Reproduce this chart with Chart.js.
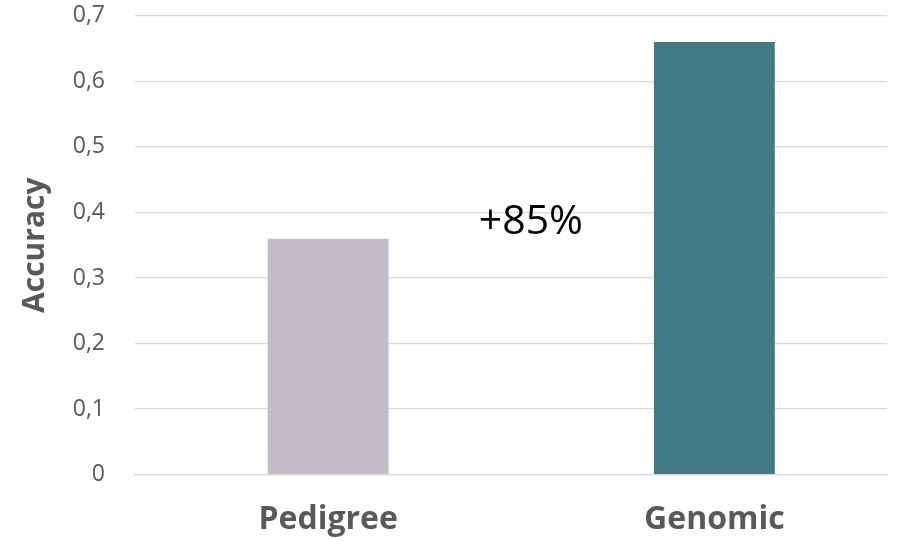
<!DOCTYPE html>
<html>
<head>
<meta charset="utf-8">
<script src="https://cdn.jsdelivr.net/npm/chart.js@4.4.1/dist/chart.umd.min.js"></script>
<style>
  html, body { margin: 0; padding: 0; background: #fff; }
  #wrap { width: 902px; height: 541px; }
</style>
</head>
<body>
<div id="wrap"><canvas id="acc-chart"></canvas></div>
<script>
var categories = ['Pedigree', 'Genomic'];
var accuracy = [0.36, 0.66];
var barColors = ['#c3bcc9', '#417a82'];
var yTicks = [0, 0.1, 0.2, 0.3, 0.4, 0.5, 0.6, 0.7];
var gainLabel = '+85%';
var gainLabelY = 0.385;

// bars sit on a numeric x axis (0, 1) so the plot can extend further right
var points = accuracy.map(function(v, i) { return { x: i, y: v }; });

// draws the "+85%" note between the two bars
var gainNote = {
    id: 'gainNote',
    afterDatasetsDraw: function(chart) {
        var x = chart.scales.x, y = chart.scales.y;
        var ctx = chart.ctx;
        ctx.save();
        ctx.font = '41px "Open Sans", sans-serif';
        ctx.fillStyle = '#000';
        ctx.textAlign = 'center';
        ctx.textBaseline = 'middle';
        ctx.fillText(gainLabel, x.getPixelForValue(0.525), y.getPixelForValue(gainLabelY));
        ctx.restore();
    }
};

var ctx = document.getElementById('acc-chart').getContext('2d');
new Chart(ctx, {
    type: 'bar',
    data: {
        datasets: [{
            label: 'Accuracy',
            data: points,
            backgroundColor: barColors,
            categoryPercentage: 1,
            barPercentage: 0.313
        }]
    },
    options: {
        responsive: true,
        maintainAspectRatio: false,
        animation: false,
        layout: { padding: { top: 2, right: 15, left: 0, bottom: 0 } },
        scales: {
            y: {
                min: 0,
                max: 0.7,
                afterBuildTicks: function(scale) {
                    scale.ticks = yTicks.map(function(v) { return { value: v }; });
                },
                afterFit: function(scale) {
                    scale.width = 135;
                },
                ticks: {
                    padding: 2,
                    color: '#595959',
                    font: { family: '"Open Sans", sans-serif', size: 23 },
                    callback: function(v) {
                        return v === 0 ? '0' : v.toFixed(1).replace('.', ',');
                    }
                },
                grid: {
                    color: '#d9d9d9',
                    lineWidth: 1.3,
                    drawTicks: true,
                    tickLength: 28,
                    tickColor: 'rgba(0,0,0,0)'
                },
                border: { display: false },
                title: {
                    display: true,
                    text: 'Accuracy',
                    color: '#595959',
                    font: { family: '"Open Sans", sans-serif', size: 30, weight: 'bold' },
                    padding: { top: 17, bottom: 0 }
                }
            },
            x: {
                type: 'linear',
                offset: false,
                min: -0.5,
                max: 1.447,
                afterBuildTicks: function(scale) {
                    scale.ticks = categories.map(function(c, i) { return { value: i }; });
                },
                ticks: {
                    padding: 2,
                    color: '#595959',
                    font: { family: '"Open Sans", sans-serif', size: 32, weight: 'bold' },
                    callback: function(v) { return categories[v]; }
                },
                grid: {
                    display: true,
                    offset: false,
                    drawOnChartArea: false,
                    drawTicks: true,
                    tickLength: 24,
                    tickColor: 'rgba(0,0,0,0)'
                },
                border: { display: true, color: '#d9d9d9', width: 1.3 }
            }
        },
        plugins: {
            legend: { display: false },
            tooltip: { enabled: false }
        }
    },
    plugins: [gainNote]
});
</script>
</body>
</html>
